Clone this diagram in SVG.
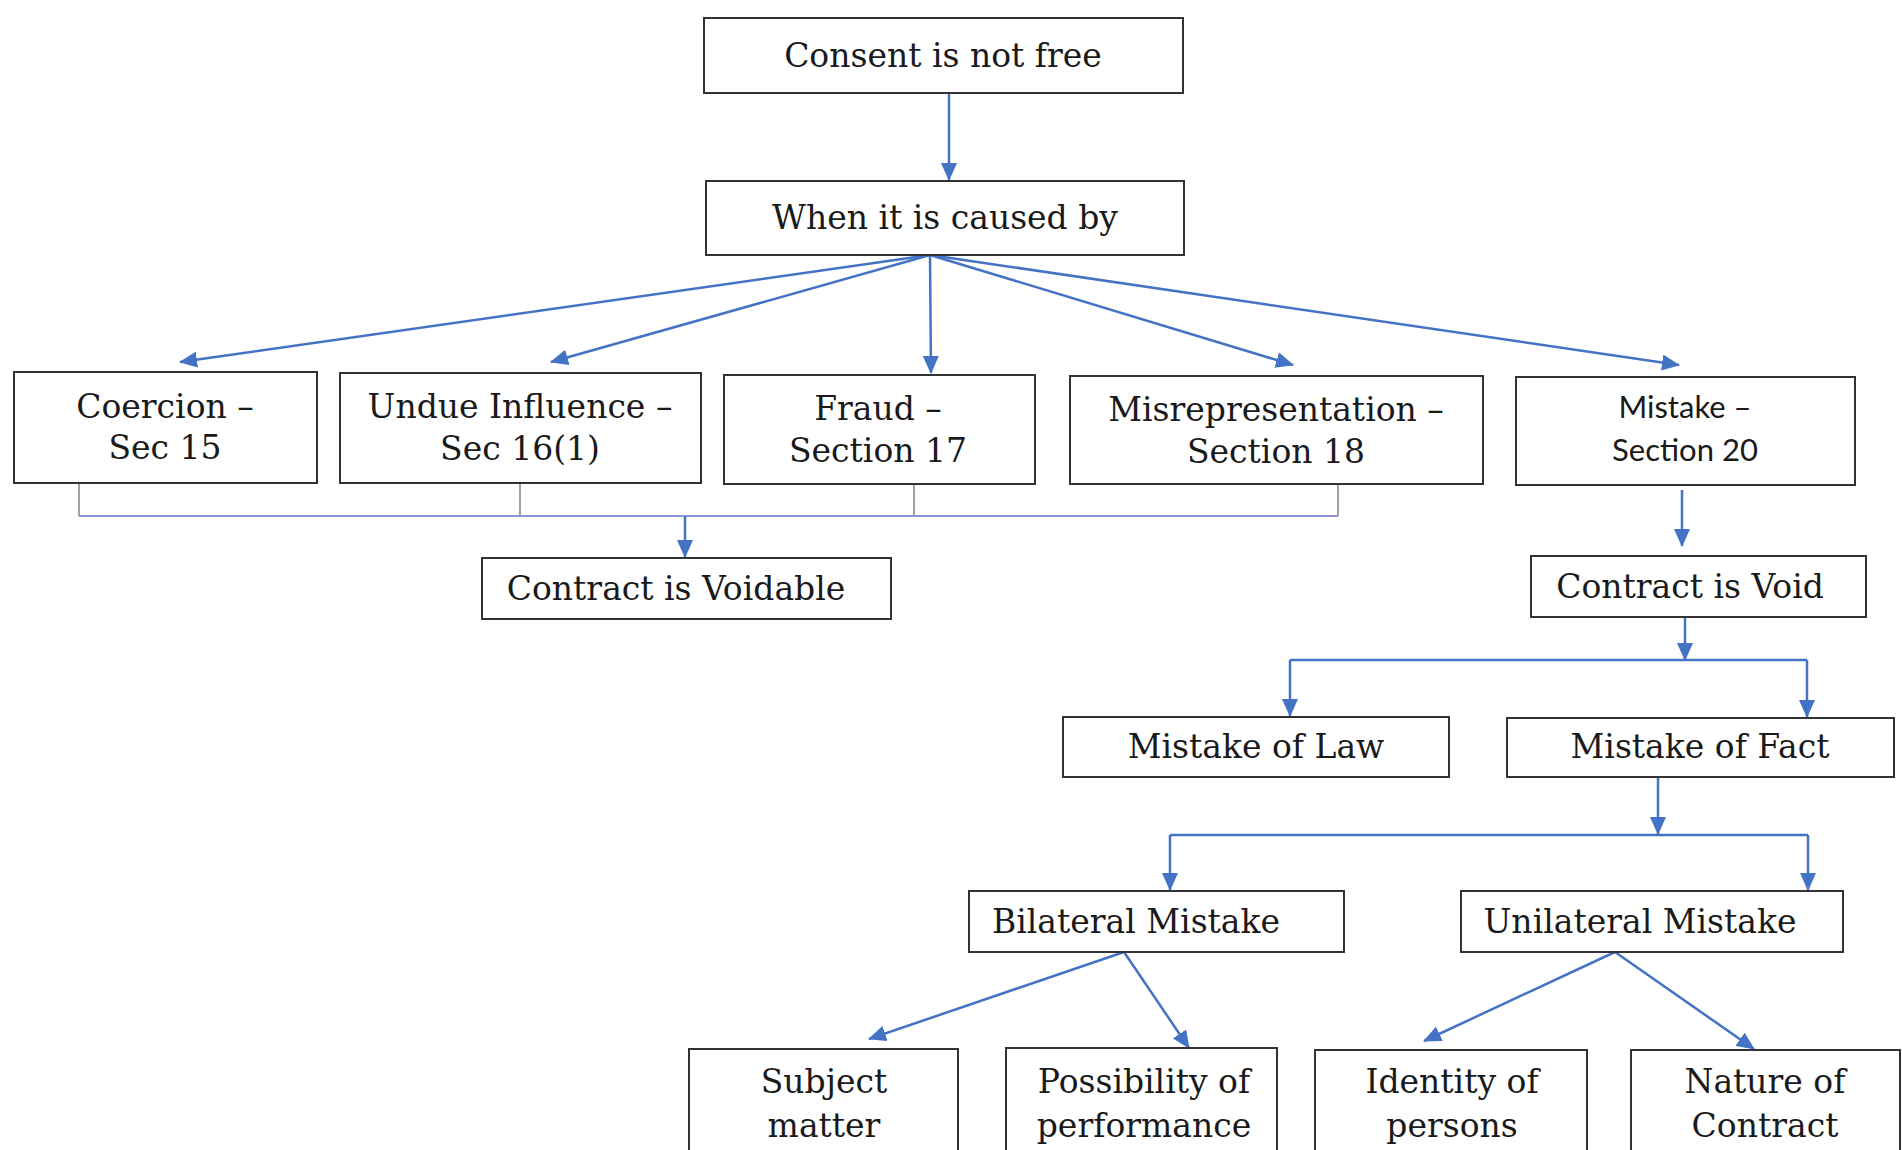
<svg xmlns="http://www.w3.org/2000/svg" width="1902" height="1150" viewBox="0 0 1902 1150">
<defs>
<marker id="ah" markerWidth="18" markerHeight="16" refX="17" refY="8" orient="auto" markerUnits="userSpaceOnUse">
<path d="M0,0 L18,8 L0,16 z" fill="#4472C4"/>
</marker>
<style>
.box{fill:#fff;stroke:#333;stroke-width:2}
.t{font-family:"DejaVu Serif","Liberation Serif",serif;font-size:33px;fill:#1a1a1a;text-anchor:middle}
.s{font-family:Lato,"Liberation Sans",sans-serif;font-size:31px;fill:#1a1a1a;text-anchor:middle}
.c{fill:none;stroke:#4472C4;stroke-width:2.5}
.ca{fill:none;stroke:#4472C4;stroke-width:2.5;marker-end:url(#ah)}
.g{fill:none;stroke:#8a8a8a;stroke-width:1.6}
.h{fill:none;stroke:#8f95d6;stroke-width:2}
</style>
</defs>
<rect width="1902" height="1150" fill="#fff"/>
<g id="connectors">
<line class="ca" x1="949" y1="93" x2="949" y2="180"/>
<line class="ca" x1="930" y1="255" x2="180" y2="362"/>
<line class="ca" x1="930" y1="255" x2="551" y2="362"/>
<line class="ca" x1="930" y1="255" x2="931" y2="373"/>
<line class="ca" x1="930" y1="255" x2="1293" y2="365"/>
<line class="ca" x1="930" y1="255" x2="1679" y2="365"/>
<line class="g" x1="79" y1="484" x2="79" y2="516"/>
<line class="g" x1="520" y1="484" x2="520" y2="516"/>
<line class="g" x1="914" y1="484" x2="914" y2="516"/>
<line class="g" x1="1338" y1="485" x2="1338" y2="516"/>
<line class="h" x1="79" y1="516" x2="1338" y2="516"/>
<line class="ca" x1="685" y1="516" x2="685" y2="557"/>
<line class="ca" x1="1682" y1="490" x2="1682" y2="546"/>
<line class="ca" x1="1685" y1="618" x2="1685" y2="660"/>
<polyline class="c" points="1290,660 1807,660"/>
<line class="ca" x1="1290" y1="660" x2="1290" y2="716"/>
<line class="ca" x1="1807" y1="660" x2="1807" y2="717"/>
<line class="ca" x1="1658" y1="777" x2="1658" y2="834"/>
<polyline class="c" points="1170,835 1808,835"/>
<line class="ca" x1="1170" y1="835" x2="1170" y2="890"/>
<line class="ca" x1="1808" y1="835" x2="1808" y2="890"/>
<line class="ca" x1="1124" y1="952" x2="869" y2="1039"/>
<line class="ca" x1="1124" y1="952" x2="1189" y2="1048"/>
<line class="ca" x1="1615" y1="952" x2="1424" y2="1041"/>
<line class="ca" x1="1615" y1="952" x2="1754" y2="1049"/>
</g>
<g id="n-consent"><rect class="box" x="704" y="18" width="479" height="75"/><text class="t" x="943" y="67">Consent is not free</text></g>
<g id="n-when"><rect class="box" x="706" y="181" width="478" height="74"/><text class="t" x="945" y="229">When it is caused by</text></g>
<g id="n-coercion"><rect class="box" x="14" y="372" width="303" height="111"/><text class="t" x="165" y="418">Coercion –</text><text class="t" x="165" y="459">Sec 15</text></g>
<g id="n-undue"><rect class="box" x="340" y="373" width="361" height="110"/><text class="t" x="520" y="418">Undue Influence –</text><text class="t" x="520" y="460">Sec 16(1)</text></g>
<g id="n-fraud"><rect class="box" x="724" y="375" width="311" height="109"/><text class="t" x="878" y="420">Fraud –</text><text class="t" x="878" y="462">Section 17</text></g>
<g id="n-misrep"><rect class="box" x="1070" y="376" width="413" height="108"/><text class="t" x="1276" y="421">Misrepresentation –</text><text class="t" x="1276" y="463">Section 18</text></g>
<g id="n-mistake"><rect class="box" x="1516" y="377" width="339" height="108"/><text class="s" x="1685" y="418">Mistake –</text><text class="s" x="1685" y="461">Section 20</text></g>
<g id="n-voidable"><rect class="box" x="482" y="558" width="409" height="61"/><text class="t" x="676" y="600">Contract is Voidable</text></g>
<g id="n-void"><rect class="box" x="1531" y="556" width="335" height="61"/><text class="t" x="1690" y="598">Contract is Void</text></g>
<g id="n-law"><rect class="box" x="1063" y="717" width="386" height="60"/><text class="t" x="1256" y="758">Mistake of Law</text></g>
<g id="n-fact"><rect class="box" x="1507" y="718" width="387" height="59"/><text class="t" x="1700" y="758">Mistake of Fact</text></g>
<g id="n-bilateral"><rect class="box" x="969" y="891" width="375" height="61"/><text class="t" x="1136" y="933">Bilateral Mistake</text></g>
<g id="n-unilateral"><rect class="box" x="1461" y="891" width="382" height="61"/><text class="t" x="1640" y="933">Unilateral Mistake</text></g>
<g id="n-subject"><rect class="box" x="689" y="1049" width="269" height="130"/><text class="t" x="824" y="1093">Subject</text><text class="t" x="824" y="1137">matter</text></g>
<g id="n-possibility"><rect class="box" x="1006" y="1048" width="271" height="130"/><text class="t" x="1144" y="1093">Possibility of</text><text class="t" x="1144" y="1137">performance</text></g>
<g id="n-identity"><rect class="box" x="1315" y="1050" width="272" height="130"/><text class="t" x="1452" y="1093">Identity of</text><text class="t" x="1452" y="1137">persons</text></g>
<g id="n-nature"><rect class="box" x="1631" y="1050" width="269" height="130"/><text class="t" x="1765" y="1093">Nature of</text><text class="t" x="1765" y="1137">Contract</text></g>
</svg>
